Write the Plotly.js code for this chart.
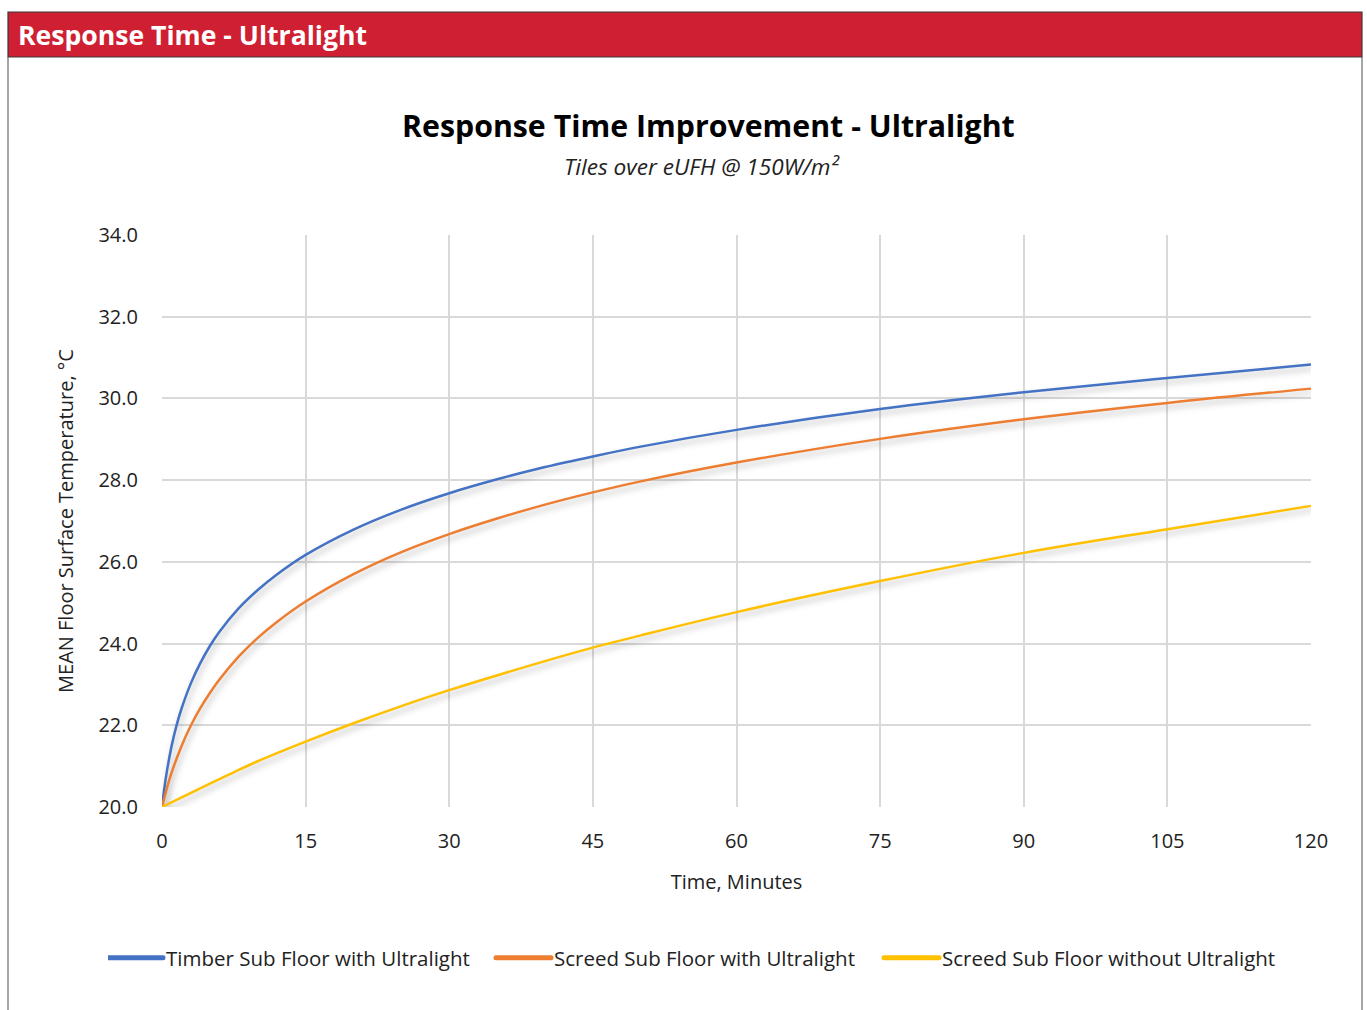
<!DOCTYPE html>
<html>
<head>
<meta charset="utf-8">
<script src="https://cdn.plot.ly/plotly-3.0.1.min.js"></script>
<style>
  html, body { margin: 0; padding: 0; background: #fff; }
  #chart { width: 1367px; height: 1010px; }
  .scatterlayer .js-line { filter: drop-shadow(2px 4px 3px rgba(0,0,0,0.28)); }
</style>
</head>
<body>
<div id="chart"></div>
<script>
// ---- Data ----
const timberMinutes = [0, 0.25, 0.5, 1, 1.5, 2, 3, 4, 5, 6, 8, 10, 12, 15, 20, 25, 30, 35, 40, 45, 50, 60, 75, 90, 105, 120];
const timberWithUltralight = [20.0, 20.47, 20.86, 21.49, 21.98, 22.38, 23.02, 23.52, 23.94, 24.29, 24.86, 25.31, 25.69, 26.17, 26.79, 27.28, 27.68, 28.02, 28.32, 28.58, 28.82, 29.23, 29.74, 30.15, 30.5, 30.83];
const screedMinutes = [0, 0.5, 1, 2, 3, 4, 5, 6, 8, 10, 12, 15, 20, 25, 30, 35, 40, 45, 50, 60, 75, 90, 105, 120];
const screedWithUltralight = [20.0, 20.45, 20.84, 21.47, 21.99, 22.42, 22.79, 23.12, 23.68, 24.14, 24.53, 25.03, 25.7, 26.24, 26.68, 27.06, 27.4, 27.7, 27.97, 28.43, 29.01, 29.49, 29.89, 30.24];
const plainMinutes = [0, 2, 5, 7.5, 10, 15, 20, 25, 30, 40, 45, 50, 60, 75, 90, 105, 120];
const screedWithoutUltralight = [20.0, 20.23, 20.57, 20.85, 21.12, 21.6, 22.05, 22.47, 22.86, 23.57, 23.9, 24.2, 24.77, 25.53, 26.22, 26.8, 27.37];
const seriesNames = ["Timber Sub Floor with Ultralight", "Screed Sub Floor with Ultralight", "Screed Sub Floor without Ultralight"];
const seriesColors = ["#4472C4", "#ED7D31", "#FFC000"];
const xTicks = [0, 15, 30, 45, 60, 75, 90, 105, 120];
const yTicks = [20, 22, 24, 26, 28, 30, 32, 34];
const headerText = "Response Time - Ultralight";
const chartTitle = "Response Time Improvement - Ultralight";
const chartSubtitle = "Tiles over eUFH @ 150W/m²";
const xTitle = "Time, Minutes";
const yTitle = "MEAN Floor Surface Temperature, °C";

// ---- Layout geometry (pixels) ----
const W = 1367, H = 1010;
const L = 162, R = 1311, T = 235, B = 807;
const px = x => (x - L) / (R - L);
const py = y => (B - y) / (B - T);

const FONT = "Open Sans, Noto Sans, sans-serif";
const seriesX = [timberMinutes, screedMinutes, plainMinutes];
const seriesValues = [timberWithUltralight, screedWithUltralight, screedWithoutUltralight];

const traces = seriesValues.map((vals, i) => ({
  type: "scatter",
  mode: "lines",
  x: seriesX[i],
  y: vals,
  name: seriesNames[i],
  line: { color: seriesColors[i], width: 2.5, shape: "spline", smoothing: 1 },
  hoverinfo: "x+y+name"
}));

const layout = {
  width: W, height: H,
  margin: { l: L, r: W - R, t: T, b: H - B, pad: 0 },
  paper_bgcolor: "#ffffff",
  plot_bgcolor: "#ffffff",
  font: { family: FONT, color: "#222222", size: 20 },
  showlegend: true,
  legend: {
    orientation: "h",
    x: px(108), xanchor: "left",
    y: py(958), yanchor: "middle",
    font: { family: FONT, size: 20.5, color: "#222222" },
    itemwidth: 48,
    entrywidth: 325,
    traceorder: "normal"
  },
  xaxis: {
    range: [0, 120],
    tickvals: xTicks,
    ticktext: xTicks.map(String),
    showgrid: true, gridcolor: "#d9d9d9", gridwidth: 2,
    zeroline: false, showline: false,
    ticks: "outside", ticklen: 16, tickcolor: "rgba(0,0,0,0)",
    tickfont: { family: FONT, size: 20, color: "#222222" },
    title: { text: xTitle, font: { family: FONT, size: 20, color: "#222222" }, standoff: 21 },
    automargin: false,
    fixedrange: true
  },
  yaxis: {
    range: [20, 34],
    tickvals: yTicks,
    tickformat: ".1f",
    showgrid: true, gridcolor: "#d9d9d9", gridwidth: 2,
    zeroline: false, showline: false,
    ticks: "outside", ticklen: 19, tickcolor: "rgba(0,0,0,0)",
    tickfont: { family: FONT, size: 20, color: "#222222" },
    title: { text: yTitle, font: { family: FONT, size: 20, color: "#222222" }, standoff: 19 },
    automargin: false,
    fixedrange: true
  },
  shapes: [
    { type: "rect", xref: "paper", yref: "paper",
      x0: px(8), x1: px(1362), y0: py(57), y1: py(12),
      fillcolor: "#CF1F32", line: { color: "#3a3a3a", width: 1.2 }, layer: "below" },
    { type: "line", xref: "paper", yref: "paper",
      x0: px(8), x1: px(8), y0: py(57), y1: py(1012),
      line: { color: "#6b6b6b", width: 1.2 } },
    { type: "line", xref: "paper", yref: "paper",
      x0: px(1362), x1: px(1362), y0: py(57), y1: py(1012),
      line: { color: "#6b6b6b", width: 1.2 } }
  ],
  annotations: [
    { text: "<b>" + headerText + "</b>", xref: "paper", yref: "paper",
      x: px(16), xanchor: "left", y: py(35), yanchor: "middle", showarrow: false,
      font: { family: FONT, size: 26.6, color: "#ffffff" } },
    { text: "<b>" + chartTitle + "</b>", xref: "paper", yref: "paper",
      x: px(708), xanchor: "center", y: py(125), yanchor: "middle", showarrow: false,
      font: { family: FONT, size: 30.3, color: "#000000" } },
    { text: "<i>" + chartSubtitle + "</i>", xref: "paper", yref: "paper",
      x: px(702), xanchor: "center", y: py(167), yanchor: "middle", showarrow: false,
      font: { family: FONT, size: 22.6, color: "#222222" } }
  ]
};

Plotly.newPlot("chart", traces, layout, { displayModeBar: false, staticPlot: true }).then(gd => {
  // Longer, thicker, rounded legend swatches like the reference
  gd.querySelectorAll(".legend .legendlines path").forEach(p => {
    p.setAttribute("d", "M0,0h55");
    p.style.strokeWidth = "5px";
    p.style.strokeLinecap = "round";
  });
  // Let the last legend label show in full (no clipping at the legend box edge)
  document.querySelectorAll('clipPath[id^="legend"] rect').forEach(r => {
    const w = parseFloat(r.getAttribute("width")) || 0;
    r.setAttribute("width", w + 80);
  });
});
</script>
</body>
</html>
